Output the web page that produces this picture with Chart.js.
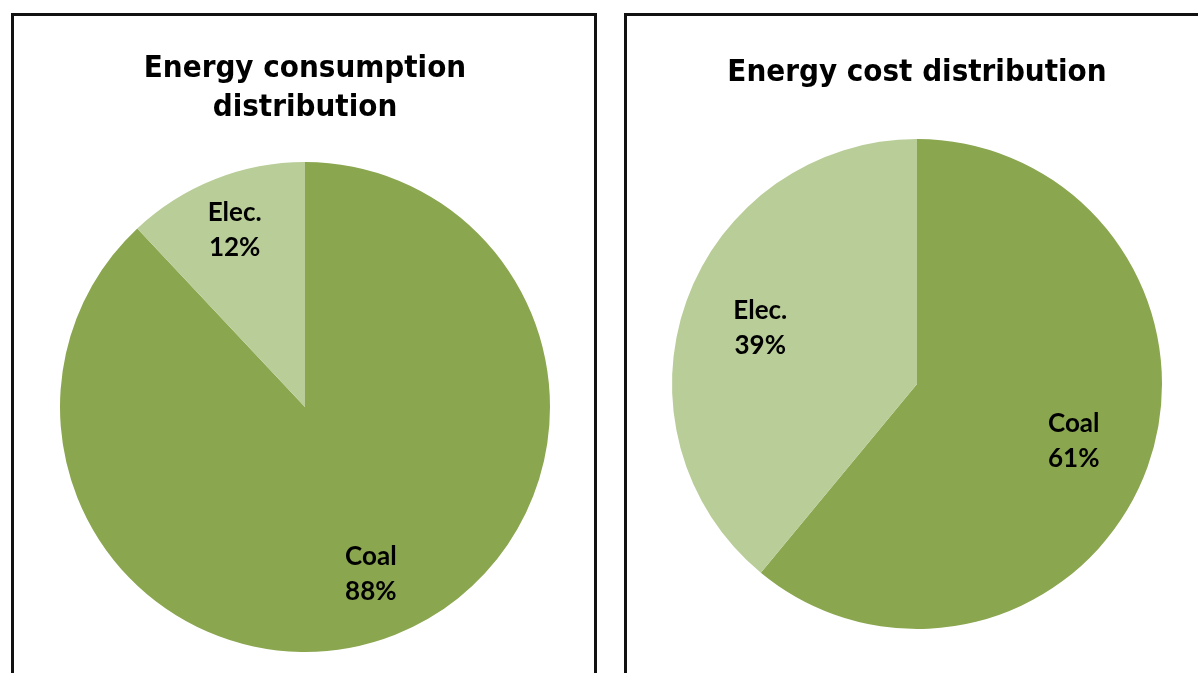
<!DOCTYPE html>
<html lang="en">
<head>
    <meta charset="UTF-8">
    <title>Energy distribution</title>
    <style>
        html, body { margin: 0; padding: 0; background: #fff; overflow: hidden; width: 1198px; height: 673px; }
        .panel { position: absolute; top: 13px; width: 580px; height: 680px; border: 3px solid #111; background: #fff; }
        #p1 { left: 11px; }
        #p2 { left: 624px; }
        .panel canvas { position: absolute; left: 0; top: 0; }
    </style>
    <script src="https://cdn.jsdelivr.net/npm/chart.js"></script>
</head>
<body>
    <div class="panel" id="p1"><canvas id="consumption" width="580" height="657"></canvas></div>
    <div class="panel" id="p2"><canvas id="cost" width="580" height="657"></canvas></div>

    <script>
        const sources = ['Coal', 'Elec.'];
        const consumptionShare = [88, 12];
        const costShare = [61, 39];
        const colors = ['#8aa64f', '#b9cd98'];

        // writes "name / xx%" inside each slice, at a fraction of the radius
        const sliceLabels = {
            id: 'sliceLabels',
            afterDatasetsDraw(chart, args, opts) {
                const ctx = chart.ctx;
                const meta = chart.getDatasetMeta(0);
                const values = chart.data.datasets[0].data;
                const total = values.reduce((a, b) => a + b, 0);
                ctx.save();
                ctx.fillStyle = '#000';
                ctx.font = 'bold 26px Lato';
                ctx.textAlign = 'center';
                ctx.textBaseline = 'middle';
                meta.data.forEach((arc, i) => {
                    const p = arc.getProps(['x', 'y', 'startAngle', 'endAngle', 'outerRadius'], true);
                    const mid = (p.startAngle + p.endAngle) / 2;
                    const r = p.outerRadius * opts.radius[i];
                    const x = p.x + Math.cos(mid) * r;
                    const y = p.y + Math.sin(mid) * r;
                    ctx.fillText(chart.data.labels[i], x, y - 17);
                    ctx.fillText(Math.round(values[i] / total * 100) + '%', x, y + 18);
                });
                ctx.restore();
            }
        };

        function makePie(id, title, values, padding, titlePad, labelRadius) {
            return new Chart(document.getElementById(id), {
                type: 'pie',
                data: {
                    labels: sources,
                    datasets: [{ data: values, backgroundColor: colors, borderWidth: 0 }]
                },
                options: {
                    responsive: false,
                    animation: false,
                    layout: { padding: padding },
                    plugins: {
                        legend: { display: false },
                        tooltip: { enabled: false },
                        sliceLabels: { radius: labelRadius },
                        title: {
                            display: true,
                            text: title,
                            color: '#000',
                            font: { family: 'DejaVu Sans Condensed, DejaVu Sans', size: 31, weight: 'bold', lineHeight: 1.25 },
                            padding: titlePad
                        }
                    }
                },
                plugins: [sliceLabels]
            });
        }

        makePie('consumption', ['Energy consumption', 'distribution'], consumptionShare,
            { top: 24, bottom: 21, left: 46, right: 44 }, { top: 10, bottom: 34.5 }, [0.73, 0.78]);
        makePie('cost', 'Energy cost distribution', costShare,
            { top: 28, bottom: 44, left: 45, right: 45 }, { top: 10, bottom: 46.25 }, [0.68, 0.68]);
    </script>
</body>
</html>
